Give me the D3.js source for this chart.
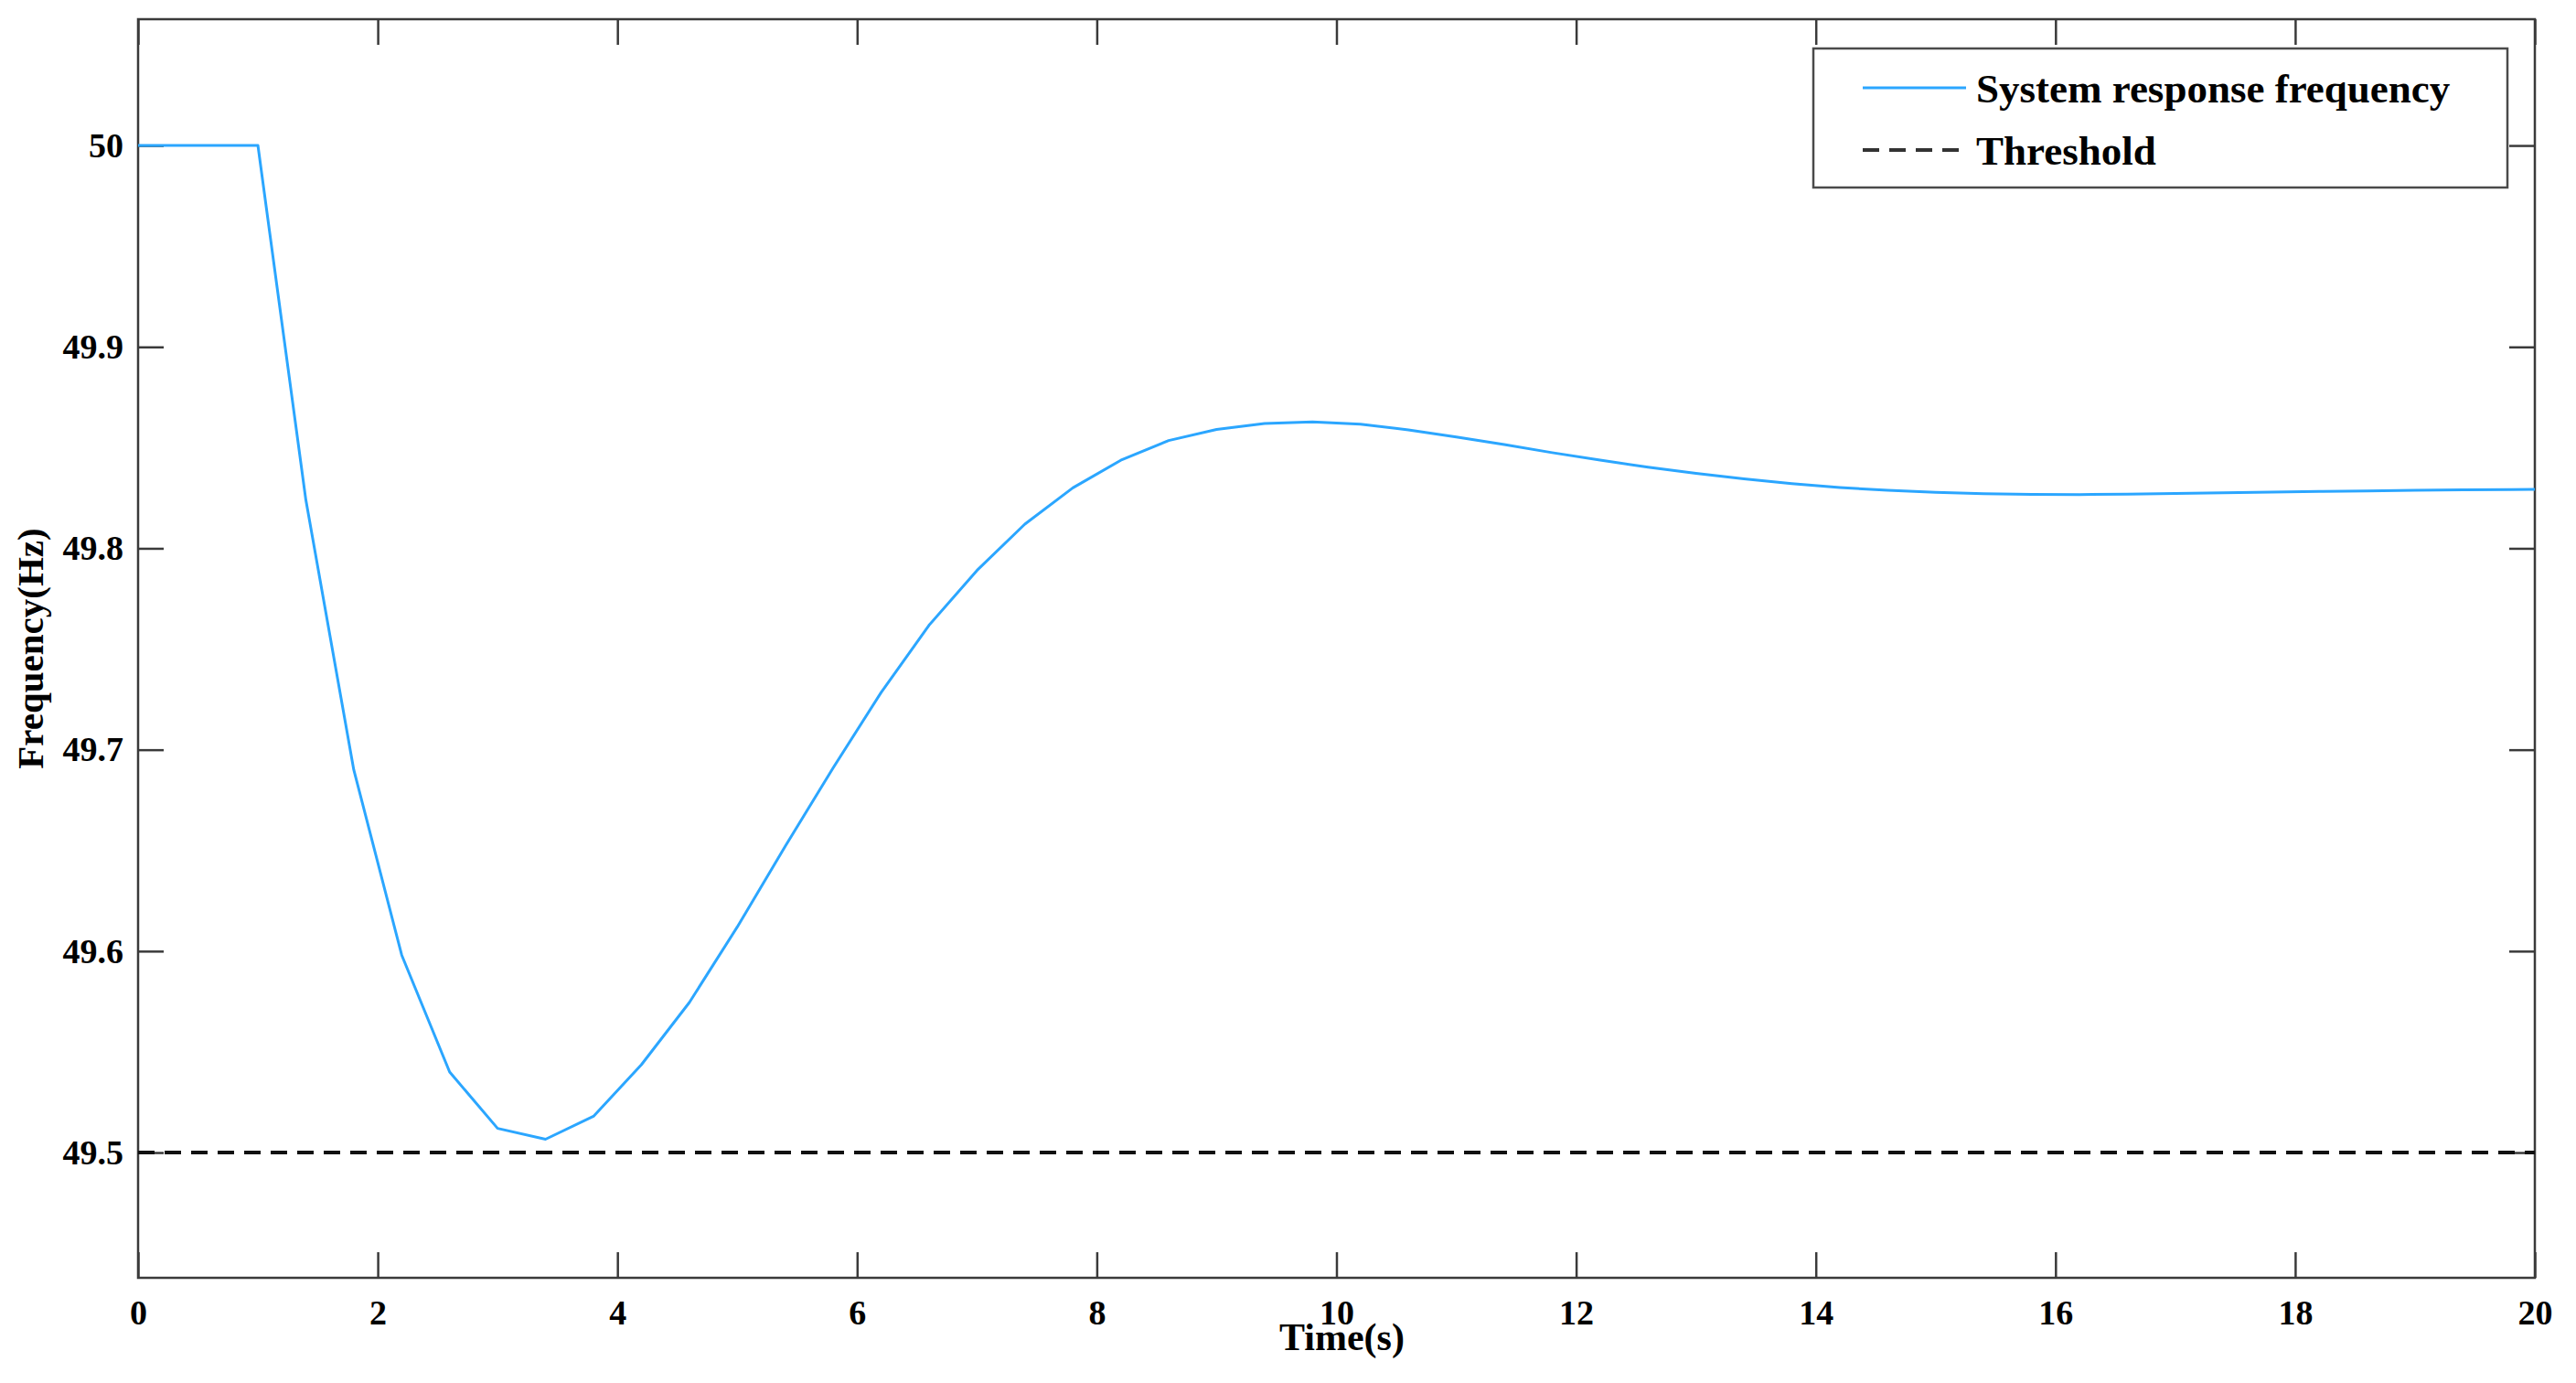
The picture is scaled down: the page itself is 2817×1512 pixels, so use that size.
<!DOCTYPE html>
<html>
<head>
<meta charset="utf-8">
<script src="https://cdn.jsdelivr.net/npm/d3@7"></script>
<style>
  body { margin: 0; background: #fff; }
  text { font-family: "Liberation Serif", "Times New Roman", serif; font-weight: 700; fill: #000; }
</style>
</head>
<body>
<svg id="chart" width="2817" height="1512"></svg>
<script>
// time (s) and system response frequency (Hz)
const times = [0, 1.0, 1.4, 1.8, 2.2, 2.6, 3.0, 3.4, 3.8, 4.2, 4.6, 5.0, 5.4, 5.8, 6.2, 6.6, 7.0, 7.4, 7.8,
  8.2, 8.6, 9.0, 9.4, 9.8, 10.2, 10.6, 11.0, 11.4, 11.8, 12.2, 12.6, 13.0, 13.4, 13.8, 14.2, 14.6, 15.0,
  15.4, 15.8, 16.2, 16.6, 17.0, 17.4, 17.8, 18.2, 18.6, 19.0, 19.4, 19.8, 20.0];
const frequency = [50, 50, 49.824, 49.690, 49.598, 49.540, 49.512, 49.5066, 49.518, 49.5436, 49.5745, 49.612,
  49.652, 49.691, 49.7284, 49.7618, 49.789, 49.812, 49.830, 49.8437, 49.8535, 49.859, 49.862, 49.8628,
  49.8616, 49.8588, 49.8553, 49.8515, 49.8475, 49.8438, 49.8403, 49.8372, 49.8345, 49.8321, 49.8302,
  49.8288, 49.8278, 49.8271, 49.8268, 49.8267, 49.8269, 49.8272, 49.8276, 49.8279, 49.8282, 49.8285,
  49.8288, 49.829, 49.8292, 49.8293];
const threshold = 49.5;

const xTicks = [0, 2, 4, 6, 8, 10, 12, 14, 16, 18, 20];
const yTicks = [49.5, 49.6, 49.7, 49.8, 49.9, 50];
const yTickLabels = ["49.5", "49.6", "49.7", "49.8", "49.9", "50"];
const legendLabels = ["System response frequency", "Threshold"];

const blue = "#2ba6ff";
const axisColor = "#3a3a3a";

const plot = { left: 151, right: 2772, top: 21, bottom: 1397 };

const svg = d3.select("#chart");
svg.append("rect").attr("width", 2817).attr("height", 1512).attr("fill", "#fff");

const x = d3.scaleLinear().domain([0, 20]).range([plot.left, plot.right]);
const y = d3.scaleLinear().domain([49.4378, 50.0627]).range([plot.bottom, plot.top]);

const styleAxis = (g) => {
  g.select(".domain").remove();
  g.selectAll(".tick line").attr("stroke", axisColor).attr("stroke-width", 2.5);
  g.selectAll(".tick text").style("font-size", "38px").attr("fill", "#000");
}

// bottom
svg.append("g")
    .attr("transform", `translate(0,${plot.bottom})`)
    .call(d3.axisBottom(x).tickValues(xTicks).tickFormat(d3.format("d")).tickSize(-28).tickSizeOuter(0).tickPadding(24))
    .call(styleAxis);

// top
svg.append("g")
    .attr("transform", `translate(0,${plot.top})`)
    .call(d3.axisTop(x).tickValues(xTicks).tickFormat("").tickSize(-28).tickSizeOuter(0))
    .call(styleAxis);

// left
svg.append("g")
    .attr("transform", `translate(${plot.left},0)`)
    .call(d3.axisLeft(y).tickValues(yTicks).tickFormat((d, i) => yTickLabels[i]).tickSize(-28).tickSizeOuter(0).tickPadding(16))
    .call(styleAxis);

// right
svg.append("g")
    .attr("transform", `translate(${plot.right},0)`)
    .call(d3.axisRight(y).tickValues(yTicks).tickFormat("").tickSize(-28).tickSizeOuter(0))
    .call(styleAxis);

// frame
svg.append("rect")
    .attr("x", plot.left).attr("y", plot.top)
    .attr("width", plot.right - plot.left).attr("height", plot.bottom - plot.top)
    .attr("fill", "none").attr("stroke", axisColor).attr("stroke-width", 2.5);

// threshold
svg.append("line")
    .attr("x1", x(0)).attr("x2", x(20))
    .attr("y1", y(threshold)).attr("y2", y(threshold))
    .attr("stroke", "#111").attr("stroke-width", 4)
    .attr("stroke-dasharray", "18,11");

// response
const points = times.map((t, i) => [t, frequency[i]]);
svg.append("path")
    .datum(points)
    .attr("fill", "none")
    .attr("stroke", blue)
    .attr("stroke-width", 3)
    .attr("stroke-linejoin", "round")
    .attr("d", d3.line().x((d) => x(d[0])).y((d) => y(d[1])));

// axis titles
svg.append("text")
    .attr("x", (plot.left + plot.right) / 2 + 6).attr("y", 1476)
    .attr("text-anchor", "middle")
    .style("font-size", "42px")
    .text("Time(s)");

svg.append("text")
    .attr("transform", `translate(47,${(plot.top + plot.bottom) / 2}) rotate(-90)`)
    .attr("text-anchor", "middle")
    .style("font-size", "41px")
    .text("Frequency(Hz)");

// legend
const legend = svg.append("g");
legend.append("rect")
    .attr("x", 1983).attr("y", 53).attr("width", 759).attr("height", 152)
    .attr("fill", "#fff").attr("stroke", "#4a4a4a").attr("stroke-width", 2.5);

const rows = [
  { label: legendLabels[0], color: blue, dash: null, width: 3, cy: 96 },
  { label: legendLabels[1], color: "#333", dash: "18,11", width: 4, cy: 164 }
];

const legendRows = legend.selectAll("g.row")
    .data(rows)
    .enter()
    .append("g")
      .attr("class", "row");

legendRows.append("line")
    .attr("x1", 2037).attr("x2", 2150)
    .attr("y1", (d) => d.cy).attr("y2", (d) => d.cy)
    .attr("stroke", (d) => d.color)
    .attr("stroke-width", (d) => d.width)
    .attr("stroke-dasharray", (d) => d.dash);

legendRows.append("text")
    .attr("x", 2161)
    .attr("y", (d) => d.cy + 16)
    .style("font-size", "45px")
    .text((d) => d.label);
</script>
</body>
</html>
